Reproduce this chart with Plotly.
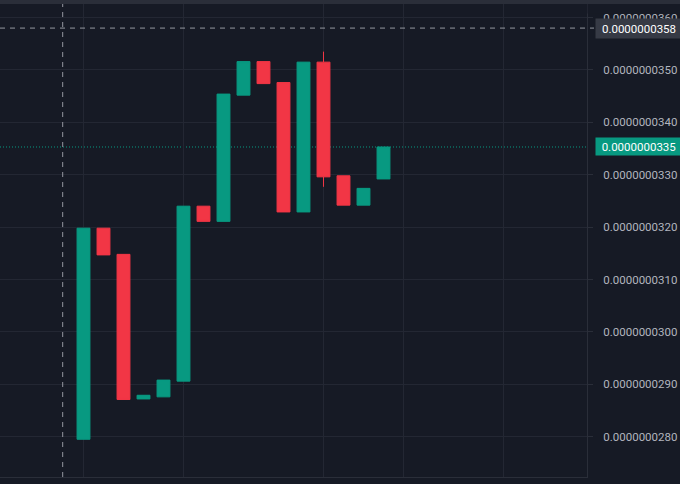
import plotly.graph_objects as go

SCALE = 1e-10  # values below are in units of 1e-10

# candle index positions
candle_x = list(range(16))
opens = [279.5, 319.8, 314.8, 287.2, 287.6, 290.6, 324.0, 321.1, 345.2, 351.6, 347.6, 322.9, 351.5, 329.8, 324.2, 329.2]
highs = [319.8, 319.8, 314.8, 287.9, 290.8, 324.0, 324.0, 345.4, 351.6, 351.6, 347.6, 351.5, 353.5, 329.8, 327.4, 335.3]
lows = [279.5, 314.7, 287.1, 287.2, 287.6, 290.6, 321.1, 321.1, 345.2, 347.4, 322.9, 322.9, 327.7, 324.2, 324.2, 329.2]
closes = [319.8, 314.7, 287.1, 287.9, 290.8, 324.0, 321.1, 345.4, 351.6, 347.4, 322.9, 351.5, 329.6, 324.2, 327.4, 335.3]

y_ticks = [280, 290, 300, 310, 320, 330, 340, 350, 360]
y_ticktext = ["0.0000000%d0" % (v // 10) for v in y_ticks]
x_grid = [0, 5, 12, 16, 21]

cursor_x = -1.04
cursor_y = 358.0
cursor_label = "0.0000000358"
last_price = 335.3
last_label = "0.0000000335"

BG = "#161a25"
GRID = "#232733"
UP = "#089981"
DOWN = "#f23645"
TXT = "#b2b5be"

sc = lambda arr: [v * SCALE for v in arr]

fig = go.Figure()
fig.add_trace(go.Candlestick(
    x=candle_x, open=sc(opens), high=sc(highs), low=sc(lows), close=sc(closes),
    increasing=dict(line=dict(color=UP, width=1), fillcolor=UP),
    decreasing=dict(line=dict(color=DOWN, width=1), fillcolor=DOWN),
    whiskerwidth=0, hoverinfo="skip", showlegend=False,
))

H = 477.0
W = 587.0
fig.update_layout(
    width=680, height=484,
    margin=dict(l=0, r=93, t=0, b=7),
    paper_bgcolor=BG, plot_bgcolor=BG,
    font=dict(family="Roboto", size=11, color=TXT),
    showlegend=False,
    boxgap=0.08,
    xaxis=dict(
        range=[-4.175, 25.175], tickvals=x_grid, showticklabels=False,
        showgrid=True, gridcolor=GRID, gridwidth=1, zeroline=False,
        rangeslider=dict(visible=False), showline=True, linecolor="#2a2e39",
        ticks="",
    ),
    yaxis=dict(
        side="right", range=[272.30 * SCALE, 363.36 * SCALE],
        tickvals=sc(y_ticks), ticktext=y_ticktext,
        showgrid=True, gridcolor=GRID, gridwidth=1, zeroline=False,
        showline=True, linecolor="#2a2e39", ticks="outside", ticklen=5,
        tickcolor="#2a2e39", ticklabelstandoff=8,
        tickfont=dict(family="Roboto", size=11.5, color=TXT),
    ),
    shapes=[
        # last price dotted line
        dict(type="line", xref="paper", yref="y", x0=0, x1=1,
             y0=last_price * SCALE, y1=last_price * SCALE,
             line=dict(color=UP, width=1, dash="1px,2px"), layer="below"),
        # crosshair horizontal
        dict(type="line", xref="paper", yref="y", x0=0, x1=1.012,
             y0=cursor_y * SCALE, y1=cursor_y * SCALE,
             line=dict(color="#9598a1", width=1, dash="5px,5px"), layer="above"),
        # crosshair vertical
        dict(type="line", xref="x", yref="paper", x0=cursor_x, x1=cursor_x,
             y0=0, y1=1, line=dict(color="#9598a1", width=1, dash="5px,5px"), layer="above"),
        # clip top of axis labels
        dict(type="rect", xref="paper", yref="paper", x0=1.001, x1=680 / W,
             y0=1 - 13.5 / H, y1=1, fillcolor=BG, line=dict(width=0), layer="above"),
        # top strip
        dict(type="rect", xref="paper", yref="paper", x0=0, x1=680 / W,
             y0=1 - 4 / H, y1=1 + 1 / H, fillcolor="#2a2e39", line=dict(width=0), layer="above"),
    ],
    annotations=[
        dict(xref="paper", yref="y", x=1, xanchor="left", xshift=8,
             y=cursor_y * SCALE, yanchor="middle", text=cursor_label, showarrow=False,
             bgcolor="#363a45", width=86, height=19, borderpad=0, align="center",
             font=dict(family="Roboto", size=11.5, color="#ffffff")),
        dict(xref="paper", yref="y", x=1, xanchor="left", xshift=8,
             y=last_price * SCALE, yanchor="middle", text=last_label, showarrow=False,
             bgcolor=UP, width=86, height=17, borderpad=0, align="center",
             font=dict(family="Roboto", size=11.5, color="#ffffff")),
    ],
)

fig.write_html("out.html", config={"displayModeBar": False},
               post_script="document.body.style.margin='0';")
